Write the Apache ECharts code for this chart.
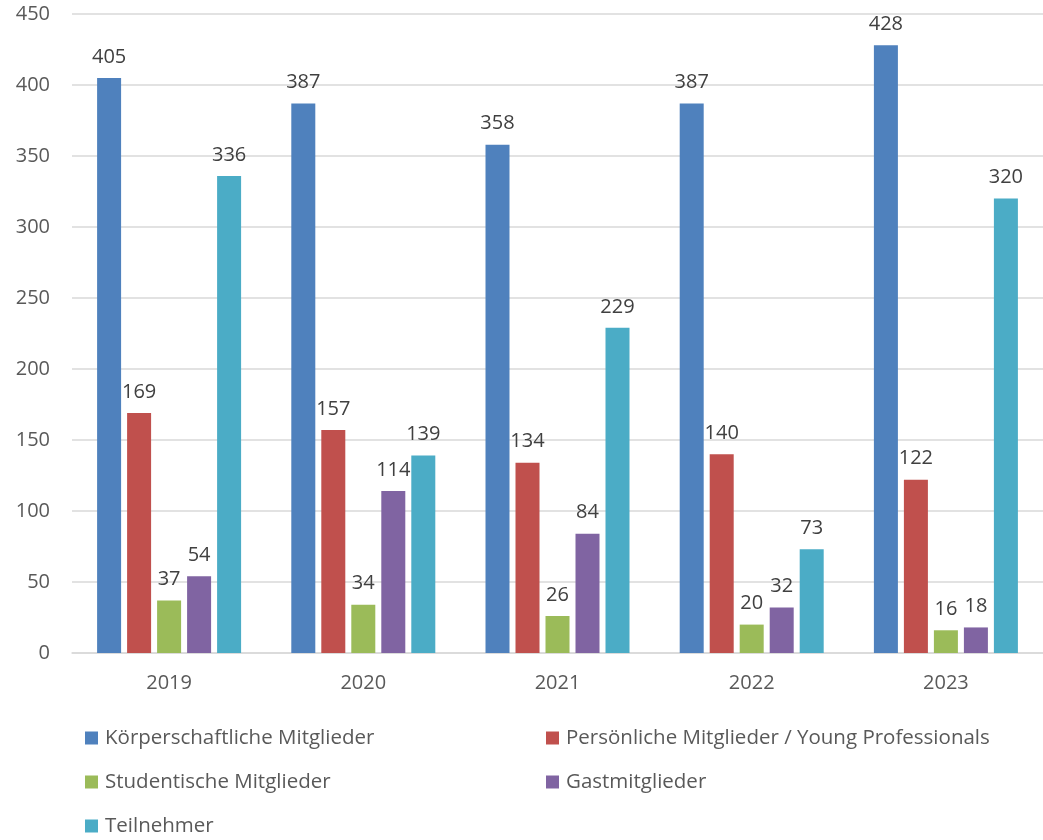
<!DOCTYPE html>
<html>
<head>
<meta charset="utf-8">
<script src="https://cdn.jsdelivr.net/npm/echarts@6/dist/echarts.min.js"></script>
<style>
  html, body { margin: 0; padding: 0; background: #fff; }
  #chart { width: 1043px; height: 840px; }
</style>
</head>
<body>
<div id="chart"></div>
<script>
const years = ['2019', '2020', '2021', '2022', '2023']
const seriesNames = [
    'Körperschaftliche Mitglieder',
    'Persönliche Mitglieder / Young Professionals',
    'Studentische Mitglieder',
    'Gastmitglieder',
    'Teilnehmer'
]
const koerperschaftlich = [405, 387, 358, 387, 428]
const persoenlich = [169, 157, 134, 140, 122]
const studentisch = [37, 34, 26, 20, 16]
const gast = [54, 114, 84, 32, 18]
const teilnehmer = [336, 139, 229, 73, 320]
const colors = ['#4F81BD', '#C0504D', '#9BBB59', '#8064A2', '#4BACC6']

const FONT = "'Open Sans', 'Liberation Sans', sans-serif"
const TEXT = '#595959'
const FS = 20

const chart = echarts.init(document.getElementById('chart'))

const values = [koerperschaftlich, persoenlich, studentisch, gast, teilnehmer]

// legend in two columns, rows ~44px apart
const legendStyle = {
    orient: 'vertical',
    icon: 'rect',
    itemWidth: 13,
    itemHeight: 13,
    itemGap: 16,
    height: 200,
    padding: 0,
    textStyle: { color: TEXT, fontSize: 20.5, fontFamily: FONT, lineHeight: 28, padding: [0, 0, 0, 2] }
}

chart.setOption({
    animation: false,
    textStyle: { fontFamily: FONT },
    color: colors,
    grid: { left: 72, top: 14, width: 979, height: 639 },
    legend: [
        Object.assign({ left: 85, top: 724, data: [seriesNames[0], seriesNames[2], seriesNames[4]] }, legendStyle),
        Object.assign({ left: 546, top: 724, data: [seriesNames[1], seriesNames[3]] }, legendStyle)
    ],
    xAxis: {
        type: 'category',
        data: years,
        axisLine: { lineStyle: { color: '#D9D9D9', width: 1.5 } },
        axisTick: { show: false },
        axisLabel: { color: TEXT, fontSize: FS, fontFamily: FONT, margin: 20 }
    },
    yAxis: {
        type: 'value',
        min: 0,
        max: 450,
        interval: 50,
        axisLine: { show: false },
        axisTick: { show: false },
        splitLine: { lineStyle: { color: '#D9D9D9', width: 1.5 } },
        axisLabel: { color: TEXT, fontSize: FS, fontFamily: FONT, margin: 22 }
    },
    series: seriesNames.map((name, i) => ({
        name,
        type: 'bar',
        data: values[i],
        barWidth: 24,
        barGap: '25%',
        label: {
            show: true,
            position: 'top',
            distance: 11,
            color: '#404040',
            fontSize: FS,
            fontFamily: FONT
        }
    }))
})
</script>
</body>
</html>
